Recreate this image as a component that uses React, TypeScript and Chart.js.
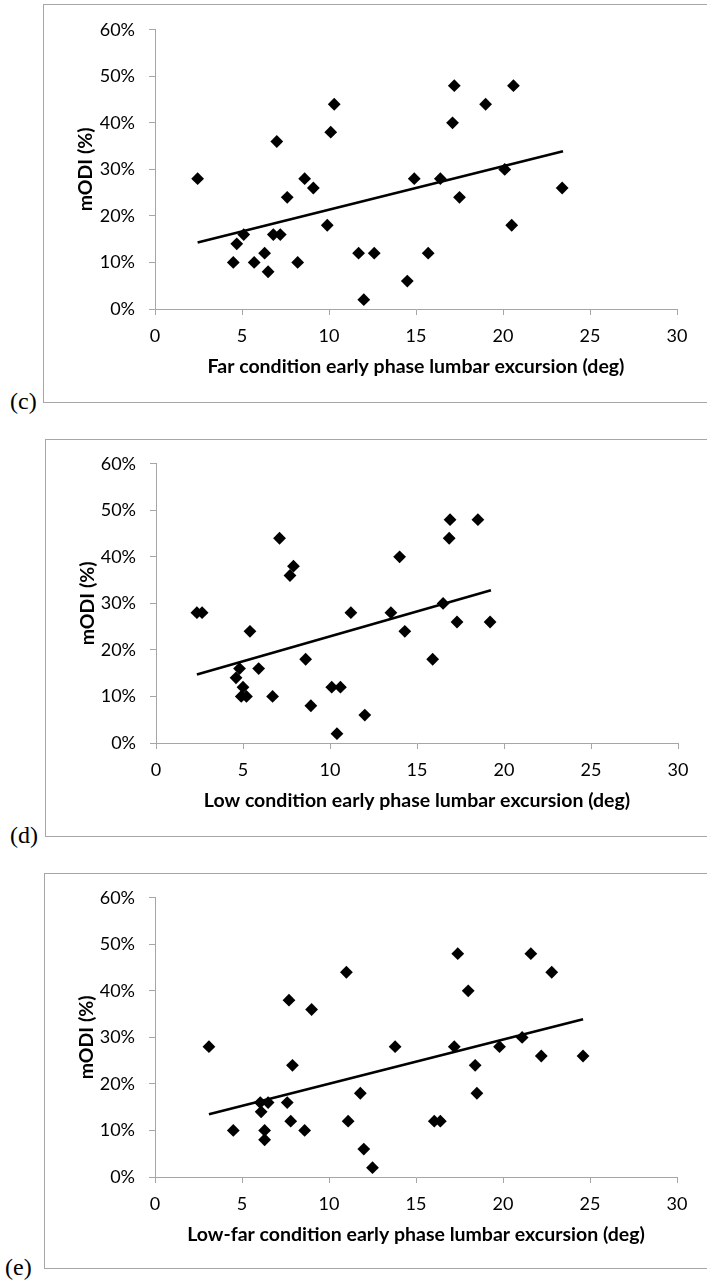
import React, { useEffect, useRef } from "react";
import { Chart, registerables } from "chart.js";

Chart.register(...registerables);

// ---- data ----
const farX = [2.45, 4.5, 4.7, 5.1, 5.7, 6.3, 6.5, 6.8, 7.0, 7.2, 7.6, 8.2, 8.6, 9.1, 9.9, 10.1, 10.3, 11.7, 12.0, 12.6, 14.5, 14.9, 15.7, 16.4, 17.1, 17.2, 17.5, 19.0, 20.1, 20.5, 20.6, 23.4];
const farY = [28, 10, 14, 16, 10, 12, 8, 16, 36, 16, 24, 10, 28, 26, 18, 38, 44, 12, 2, 12, 6, 28, 12, 28, 40, 48, 24, 44, 30, 18, 48, 26];
const farTrendX = [2.45, 23.45];
const farTrendY = [14.3, 33.9];

const lowX = [2.35, 2.65, 4.6, 4.8, 4.9, 5.0, 5.2, 5.4, 5.9, 6.7, 7.1, 7.7, 7.9, 8.6, 8.9, 10.1, 10.4, 10.6, 11.2, 12.0, 13.5, 14.0, 14.3, 15.9, 16.5, 16.85, 16.9, 17.3, 18.5, 19.2];
const lowY = [28, 28, 14, 16, 10, 12, 10, 24, 16, 10, 44, 36, 38, 18, 8, 12, 2, 12, 28, 6, 28, 40, 24, 18, 30, 44, 48, 26, 48, 26];
const lowTrendX = [2.35, 19.25];
const lowTrendY = [14.7, 32.8];

const lowFarX = [3.1, 4.5, 6.05, 6.1, 6.3, 6.3, 6.5, 7.6, 7.7, 7.8, 7.9, 8.6, 9.0, 11.0, 11.1, 11.8, 12.0, 12.5, 13.8, 16.05, 16.4, 17.2, 17.4, 18.0, 18.4, 18.5, 19.8, 21.1, 21.6, 22.2, 22.8, 24.6];
const lowFarY = [28, 10, 16, 14, 10, 8, 16, 16, 38, 12, 24, 10, 36, 44, 12, 18, 6, 2, 28, 12, 12, 28, 48, 40, 24, 18, 28, 30, 48, 26, 44, 26];
const lowFarTrendX = [3.1, 24.6];
const lowFarTrendY = [13.5, 33.9];

const xTickMin = 0;
const xTickMax = 30;
const xTickStep = 5;
const yTickMin = 0;
const yTickMax = 60;
const yTickStep = 10;

const yTitle = "mODI (%)";
const xTitleFar = "Far condition early phase lumbar excursion (deg)";
const xTitleLow = "Low condition early phase lumbar excursion (deg)";
const xTitleLowFar = "Low-far condition early phase lumbar excursion (deg)";

const AXIS_GRAY = "#a6a6a6";
const FONT = "Lato, 'Open Sans', sans-serif";

type PanelProps = {
  xs: number[];
  ys: number[];
  tx: number[];
  ty: number[];
  xTitle: string;
  label: string;
  boxTop: number;
  boxBottom: number;
  boxLeft: number;
  plotLeft: number;
  plotRight: number;
  plotTop: number;
  labelLeft: number;
};

function Panel(p: PanelProps) {
  const ref = useRef<HTMLCanvasElement | null>(null);
  const canvasLeft = p.boxLeft + 1;
  const canvasTop = p.plotTop - 22;
  const canvasWidth = 707 - canvasLeft;
  const plotBottom = p.plotTop + 282;
  const canvasHeight = plotBottom + 94 - canvasTop;
  const yAxisWidth = p.plotLeft - canvasLeft;
  const rightPad = canvasLeft + canvasWidth - p.plotRight;

  useEffect(() => {
    if (!ref.current) return;
    const chart = new Chart(ref.current, {
      type: "scatter",
      data: {
        datasets: [
          {
            type: "scatter",
            data: p.xs.map((x, i) => ({ x, y: p.ys[i] })),
            pointStyle: "rectRot",
            pointRadius: 6.4,
            pointBackgroundColor: "#000",
            pointBorderWidth: 0,
            borderWidth: 0,
          } as any,
          {
            type: "line",
            data: p.tx.map((x, i) => ({ x, y: p.ty[i] })),
            borderColor: "#000",
            borderWidth: 2.6,
            pointRadius: 0,
            showLine: true,
            fill: false,
            tension: 0,
          } as any,
        ],
      },
      options: {
        animation: false,
        responsive: false,
        maintainAspectRatio: false,
        events: [],
        layout: { padding: { top: 22, right: rightPad, bottom: 0, left: 0 } },
        plugins: { legend: { display: false }, tooltip: { enabled: false }, title: { display: false } },
        scales: {
          x: {
            type: "linear",
            min: xTickMin,
            max: xTickMax,
            offset: false,
            afterFit: (s: any) => {
              s.height = 94;
            },
            ticks: {
              stepSize: xTickStep,
              color: "#000",
              padding: 10,
              maxRotation: 0,
              font: { family: FONT, size: 18 },
            },
            grid: { drawOnChartArea: false, drawTicks: true, tickLength: 6, color: AXIS_GRAY },
            border: { display: true, color: AXIS_GRAY, width: 1 },
            title: {
              display: true,
              text: p.xTitle,
              color: "#000",
              font: { family: FONT, size: 19.5, weight: "bold" },
              padding: { top: 0, bottom: 24.5 },
            },
          },
          y: {
            type: "linear",
            min: yTickMin,
            max: yTickMax,
            afterFit: (s: any) => {
              s.width = yAxisWidth;
            },
            ticks: {
              stepSize: yTickStep,
              color: "#000",
              padding: 14,
              font: { family: FONT, size: 18 },
              callback: (v: any) => v + "%",
            },
            grid: { drawOnChartArea: false, drawTicks: true, tickLength: 6, color: AXIS_GRAY },
            border: { display: true, color: AXIS_GRAY, width: 1 },
            title: {
              display: true,
              text: yTitle,
              color: "#000",
              font: { family: FONT, size: 19.5, weight: "bold" },
              padding: { top: 30, bottom: 0 },
            },
          },
        },
      } as any,
    });
    return () => chart.destroy();
  }, []);

  return (
    <>
      <div
        style={{
          position: "absolute",
          left: p.boxLeft,
          top: p.boxTop,
          width: 720 - p.boxLeft,
          height: p.boxBottom - p.boxTop - 1,
          borderLeft: `1px solid ${AXIS_GRAY}`,
          borderTop: `1px solid ${AXIS_GRAY}`,
          borderBottom: `1px solid ${AXIS_GRAY}`,
          boxSizing: "border-box",
        }}
      />
      <canvas
        ref={ref}
        width={canvasWidth}
        height={canvasHeight}
        style={{ position: "absolute", left: canvasLeft, top: canvasTop, width: canvasWidth, height: canvasHeight }}
      />
      <div
        style={{
          position: "absolute",
          left: p.labelLeft,
          top: p.boxBottom - 17,
          fontFamily: "'Liberation Serif', 'Times New Roman', serif",
          fontSize: 24,
          lineHeight: "28px",
          color: "#000",
        }}
      >
        {p.label}
      </div>
    </>
  );
}

export default function App() {
  return (
    <div
      style={{
        position: "absolute",
        left: 0,
        top: 0,
        width: 707,
        height: 1281,
        overflow: "hidden",
        background: "#fff",
      }}
    >
      <Panel
        xs={farX}
        ys={farY}
        tx={farTrendX}
        ty={farTrendY}
        xTitle={xTitleFar}
        label="(c)"
        boxTop={4}
        boxBottom={404}
        boxLeft={43}
        plotLeft={155}
        plotRight={677}
        plotTop={27}
        labelLeft={10}
      />
      <Panel
        xs={lowX}
        ys={lowY}
        tx={lowTrendX}
        ty={lowTrendY}
        xTitle={xTitleLow}
        label="(d)"
        boxTop={439}
        boxBottom={838}
        boxLeft={45}
        plotLeft={156}
        plotRight={678}
        plotTop={461}
        labelLeft={10}
      />
      <Panel
        xs={lowFarX}
        ys={lowFarY}
        tx={lowFarTrendX}
        ty={lowFarTrendY}
        xTitle={xTitleLowFar}
        label="(e)"
        boxTop={873}
        boxBottom={1270}
        boxLeft={44}
        plotLeft={155}
        plotRight={677}
        plotTop={895}
        labelLeft={5}
      />
    </div>
  );
}
